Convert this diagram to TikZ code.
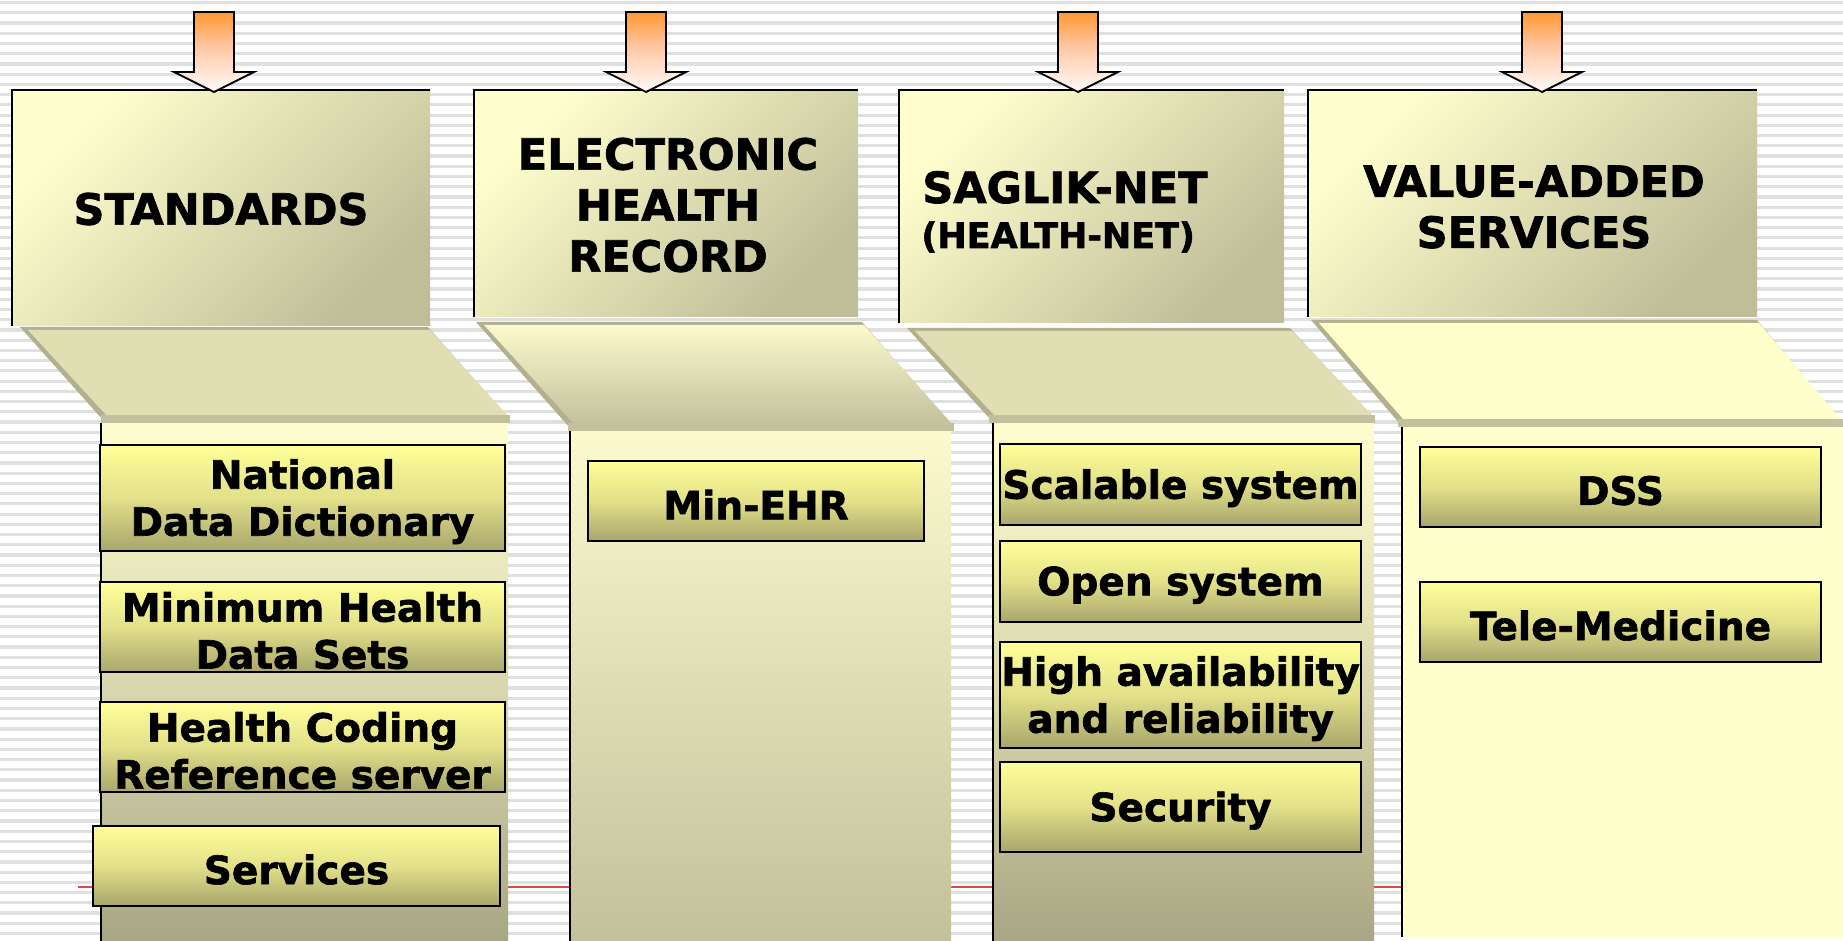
\documentclass[tikz,border=0pt]{standalone}
\usepackage{fontspec}
\setmainfont{DejaVu Sans}
\newfontfamily\heavyfont{DejaVu Sans Bold}[FakeBold=1.6]
\definecolor{stripe}{HTML}{E0E0E0}
\definecolor{hdA}{HTML}{FFFFCE}
\definecolor{hdB}{HTML}{C0BE98}
\definecolor{trF}{HTML}{E0DFB3}
\definecolor{trE}{HTML}{B2B08E}
\definecolor{trBand}{HTML}{C3C19D}
\definecolor{colTop}{HTML}{FEFDCF}
\definecolor{colMid}{HTML}{DAD8B0}
\definecolor{colBot}{HTML}{A8A783}
\definecolor{cTwoTop}{HTML}{FBF9CD}
\definecolor{cTwoBot}{HTML}{C3C19B}
\definecolor{paleY}{HTML}{FFFFCC}
\definecolor{itA}{HTML}{FFFF99}
\definecolor{itM}{HTML}{E2E089}
\definecolor{itB}{HTML}{A8A66C}
\definecolor{arA}{HTML}{FF9933}
\definecolor{arM}{HTML}{FFCDB0}
\definecolor{arB}{HTML}{FFFBF8}
\definecolor{redline}{HTML}{E04848}
\newcommand{\mytrap}[7]{%
  \fill[trE] (#1,#3) -- (#2,#3) -- (#5,#6) -- (#4,#6) -- cycle;
  \path[#7] ({#1+8},{#3+3}) -- ({#2+2},{#3+3}) -- ({#5-2},{#6-4}) -- ({#4+4},{#6-4}) -- cycle;
  \fill[trBand] ({#4-2},{#6-5}) rectangle (#5,{#6+3});
}
\newcommand{\mycolumn}[5]{%
  \path[#5] (#1,#2) rectangle (#3,#4);
  \draw[line width=1.2pt] (#1,#2) -- (#1,#4);
}
\newcommand{\myheader}[4]{%
  \shade[top color=hdA, bottom color=hdB, shading angle=45] (#1,#2) rectangle (#3,#4);
  \draw[line width=1.1pt] (#1,#4) -- (#1,#2) -- (#3,#2);
}
\newcommand{\myarrow}[1]{%
  \path[downarrow] ({#1-20},12) -- ({#1+20},12) -- ({#1+20},72) -- ({#1+40},72) -- (#1,92) -- ({#1-40},72) -- ({#1-20},72) -- cycle;
}
% item: name, x, y, width(pt), height(pt), text
\newcommand{\myitem}[6]{%
  \node[itembox, minimum width=#4pt, minimum height=#5pt] (#1) at (#2,#3) {};
  \node[itemtext] (#1-t) at ([yshift=-1.8pt]#1.center) {#6};
}
\begin{document}
\begin{tikzpicture}[x=0.5pt,y=-0.5pt,
  hdtext/.style={align=center, inner sep=0pt, font=\fontsize{21.5}{25.5}\selectfont\heavyfont},
  itembox/.style={draw=black, line width=0.9pt, top color=itA, bottom color=itB, middle color=itM, inner sep=0pt},
  itemtext/.style={align=center, inner sep=0pt, font=\fontsize{19.5}{23.5}\selectfont\heavyfont},
  downarrow/.style={draw=black, line width=0.9pt, top color=arA, bottom color=arB, middle color=arM},
]
\useasboundingbox (0,0) rectangle (1843,941);
\fill[white] (0,0) rectangle (1843,941);
\foreach \i in {0,...,92} {\fill[stripe] (0,{\i*10.23+1}) rectangle (1843,{\i*10.23+4.2});}
% red rule behind columns
\draw[redline, line width=0.7pt] (78,887) -- (1402,887);

% headers
\myheader{12}{90}{430}{326}
\myheader{474}{90}{858}{317}
\myheader{899}{90}{1284}{323}
\myheader{1308}{90}{1757}{317}

% trapezoids
\mytrap{20}{428}{327}{103}{510}{420}{fill=trF}
\mytrap{476}{862}{322}{570}{954}{428}{top color=cTwoTop, bottom color=cTwoBot}
\mytrap{907}{1290}{328}{991}{1375}{420}{fill=trF}
\mytrap{1311}{1757}{320}{1400}{1843}{424}{fill=paleY}

% columns
\mycolumn{101}{423}{508}{941}{top color=colTop, bottom color=colBot, middle color=colMid}
\mycolumn{570}{431}{951}{941}{top color=cTwoTop, bottom color=cTwoBot}
\mycolumn{993}{423}{1374}{941}{top color=colTop, bottom color=colBot, middle color=colMid}
\mycolumn{1402}{427}{1843}{937}{fill=paleY}

% arrows
\myarrow{214}
\myarrow{646}
\myarrow{1078}
\myarrow{1542}

% header texts
\node[hdtext] (hstd) at (221,209) {STANDARDS};
\node[hdtext] (hehr) at (668,205) {ELECTRONIC\\HEALTH\\RECORD};
\node[hdtext, anchor=base west] (hsag) at (922,203) {SAGLIK-NET};
\node[inner sep=0pt, anchor=base west, font=\fontsize{17.5}{21}\selectfont\heavyfont] (hsagb) at (921,248) {(HEALTH-NET)};
\node[hdtext] (hvas) at (1534,207) {VALUE-ADDED\\SERVICES};

% column 1 items
\myitem{ndd}{302.5}{498}{202.5}{53}{National\\Data Dictionary}
\myitem{mhd}{302.5}{627}{202.5}{45}{Minimum Health\\Data Sets}
\myitem{hcr}{302.5}{747}{202.5}{45}{Health Coding\\Reference server}
\myitem{svc}{296.5}{866}{203.5}{40}{Services}
% column 2
\myitem{mehr}{756}{501}{168}{40}{Min-EHR}
% column 3
\myitem{scal}{1180.5}{484.5}{180.5}{40.5}{Scalable system}
\myitem{open}{1180.5}{581.5}{180.5}{40.5}{Open system}
\myitem{high}{1180.5}{695}{180.5}{53}{High availability\\and reliability}
\myitem{sec}{1180.5}{807}{180.5}{45}{Security}
% column 4
\myitem{dss}{1620.5}{487}{200.5}{40}{DSS}
\myitem{tele}{1620.5}{622}{200.5}{40}{Tele-Medicine}
\end{tikzpicture}
\end{document}
